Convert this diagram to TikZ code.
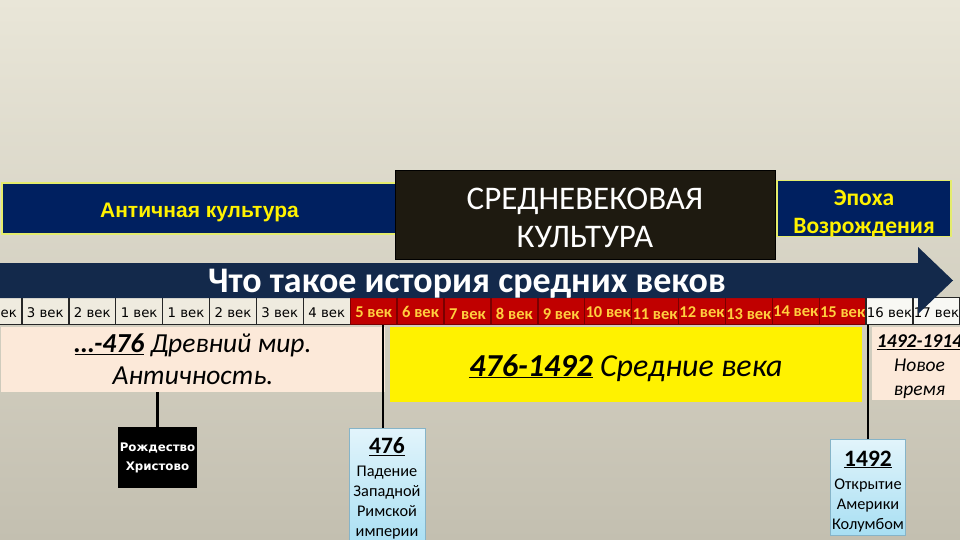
\documentclass[tikz,border=0pt]{standalone}
\usepackage{fontspec}
\setmainfont{Carlito}
\newfontfamily\arialfont{Liberation Sans}
\newfontfamily\dejafont{DejaVu Sans}

\definecolor{bgtop}{HTML}{E9E6D8}
\definecolor{bgmid}{HTML}{DCD8C9}
\definecolor{bgbottom}{HTML}{C3BFB0}
\definecolor{navy}{HTML}{002060}
\definecolor{barline}{HTML}{E4EC6C}
\definecolor{boxblack}{HTML}{1E1A10}
\definecolor{arrowblue}{HTML}{13294B}
\definecolor{cellgray}{HTML}{EFEBDF}
\definecolor{celledge}{HTML}{262626}
\definecolor{cellred}{HTML}{C00000}
\definecolor{rededge}{HTML}{7A0000}
\definecolor{cellgold}{HTML}{FFCF3F}
\definecolor{cellwhite}{HTML}{F8F8F4}
\definecolor{peach}{HTML}{FCE9D9}
\definecolor{eventtop}{HTML}{E2F4FB}
\definecolor{eventbottom}{HTML}{A8DFF3}
\definecolor{eventedge}{HTML}{86B4C8}

\tikzset{
  culture/.style={fill=navy, draw=barline, line width=1.2pt, inner sep=0pt,
    text=yellow, align=center},
  oldcell/.style={fill=cellgray, draw=celledge, line width=1.4pt, minimum width=46.9,
    minimum height=27, inner sep=0pt, text height=12, text depth=0,
    font=\dejafont\fontsize{13.3}{15}\selectfont},
  midcell/.style={oldcell, fill=cellred, draw=rededge, text=cellgold,
    font=\bfseries\fontsize{16.5}{18}\selectfont},
  newcell/.style={oldcell, fill=cellwhite},
  era/.style={inner sep=0pt, align=center},
  event/.style={draw=eventedge, top color=eventtop, bottom color=eventbottom,
    inner sep=0pt, align=center, font=\fontsize{16.3}{20}\selectfont},
  stem/.style={line width=2.2pt, draw=black}
}

\begin{document}
\begin{tikzpicture}[x=1pt, y=-1pt]

    \useasboundingbox (0, 0) rectangle (960, 540);
    \shade[top color=bgtop, middle color=bgmid, bottom color=bgbottom] (0, 0) rectangle (960, 540);

    % Culture bars above the arrow
    \node[culture, minimum width=395, minimum height=51, text height=17, text depth=0,
      font=\arialfont\bfseries\fontsize{21}{24}\selectfont] (antique) at (199.5, 208.5) {Античная культура};
    \node[culture, minimum width=174, minimum height=51,
      font=\bfseries\fontsize{23.5}{28}\selectfont] (renaissance) at (864, 208.5) {\rule{0pt}{25pt}Эпоха\\Возрождения};
    \node[fill=boxblack, draw=black, line width=1pt, minimum width=380, minimum height=88,
      inner sep=0pt, text=white, align=center, font=\fontsize{33}{38}\selectfont] (medieval) at (585, 215) {\rule{0pt}{28pt}СРЕДНЕВЕКОВАЯ\\КУЛЬТУРА};

    % Row of centuries
    \foreach \lab [count=\i from 0] in {4 век, 3 век, 2 век, 1 век, 1 век, 2 век, 3 век, 4 век}
        \node[oldcell] (c\i) at ({-1.55+46.9*\i}, 311) {\lab};
    \foreach \lab/\dy [count=\i from 8] in {5 век/0, 6 век/0, 7 век/2, 8 век/2, 9 век/2, 10 век/0,
      11 век/2, 12 век/0, 13 век/2, 14 век/-1, 15 век/0}
        \node[midcell] (c\i) at ({-1.55+46.9*\i}, 311) {\raisebox{-\dy pt}{\lab}};
    \foreach \lab [count=\i from 19] in {16 век, 17 век}
        \node[newcell] (c\i) at ({-1.55+46.9*\i}, 311) {\lab};

    % Big arrow with the title
    \fill[arrowblue] (0, 263) -- (918, 263) -- (918, 247) -- (953, 280.5) -- (918, 314) -- (918, 298) -- (0, 298) -- cycle;
    \node[anchor=base, text=white, font=\bfseries\fontsize{36}{40}\selectfont] (title) at (467, 292) {Что такое история средних веков};

    % Periods
    \node[era, fill=peach, minimum width=384, minimum height=65,
      font=\itshape\fontsize{27.5}{32}\selectfont] (ancient) at (193, 359.5) {\textbf{\underline{…-476}} Древний мир.\\Античность.};
    \node[era, fill=yellow, minimum width=472, minimum height=75, text height=23, text depth=0,
      font=\itshape\fontsize{32}{36}\selectfont] (middle) at (626, 364.5) {\textbf{\underline{476-1492}} Средние века};
    \node[era, fill=peach, minimum width=95, minimum height=73,
      font=\itshape\fontsize{19.5}{24}\selectfont] (modern) at (919.5, 363.5) {\rule{0pt}{19pt}\textbf{\underline{1492-1914}}\\Новое\\время};

    % Events
    \node[fill=black, minimum width=79, minimum height=61, inner sep=0pt, text=white, align=center,
      font=\dejafont\bfseries\fontsize{11.8}{19}\selectfont] (birth) at (157.5, 457.5) {Рождество\\Христово};
    \node[event, minimum width=76, minimum height=120] (fall) at (387, 488)
      {{\fontsize{23.5}{23.5}\selectfont\textbf{\underline{476}}}\\[3pt]Падение\\Западной\\Римской\\империи};
    \node[event, minimum width=75, minimum height=96] (discovery) at (868, 487)
      {\rule{0pt}{24pt}{\fontsize{23.5}{23.5}\selectfont\textbf{\underline{1492}}}\\[3pt]Открытие\\Америки\\Колумбом};

    % Stems from the periods to the events
    \draw[stem] (birth.north) -- (birth.north |- ancient.south);
    \draw[stem] ([xshift=-4pt]fall.north) -- ([xshift=-4pt]fall.north |- c7.south);
    \draw[stem] (discovery.north) -- (discovery.north |- c19.south);

\end{tikzpicture}
\end{document}
